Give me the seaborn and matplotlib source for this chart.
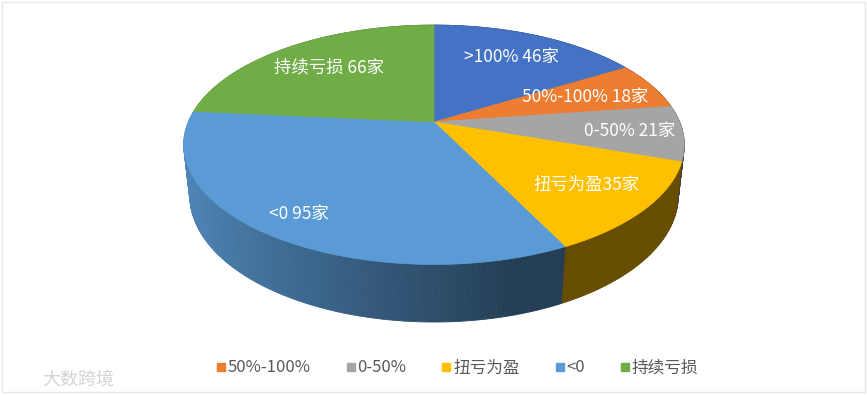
import numpy as np
import matplotlib
matplotlib.use("Agg")
import matplotlib.pyplot as plt
from matplotlib.patches import Polygon, Rectangle
from matplotlib.lines import Line2D
import matplotlib.colors as mcolors
import seaborn as sns

# data
categories = [">100%", "50%-100%", "0-50%", "扭亏为盈", "<0", "持续亏损"]
counts = [46, 18, 21, 35, 95, 66]
slice_labels = [">100% 46家", "50%-100% 18家", "0-50% 21家", "扭亏为盈35家", "<0 95家", "持续亏损 66家"]
legend_items = ["50%-100%", "0-50%", "扭亏为盈", "<0", "持续亏损"]
colors = ["#4472C4", "#ED7D31", "#A5A5A5", "#FFC000", "#5B9BD5", "#70AD47"]
label_r = [0.72, 0.68, 0.79, 0.75, 0.84, 0.7]

sns.set_theme(style="white")
plt.rcParams['font.family'] = ['Noto Sans CJK SC', 'DejaVu Sans']
palette = dict(zip(categories, sns.color_palette(colors)))

W, H = 867, 395
fig = plt.figure(figsize=(W / 100, H / 100), dpi=100)
ax = fig.add_axes([0, 0, 1, 1])
ax.set_xlim(0, W)
ax.set_ylim(H, 0)
ax.axis("off")

# perspective camera for the 3d pie
elev = np.radians(28)
s, c = np.sin(elev), np.cos(elev)
dist = 4.64
f = 1140
cx, cy = 434, 122
depth = 0.237


def project(X, Y, Z):
    yp = Y * c - Z * s
    zp = Y * s + Z * c
    w = dist - zp
    return cx + f * X / w, cy - f * yp / w, zp


def circ(phi, r=1.0, Y=0.0):
    # phi clockwise from 12 o'clock (back of the pie)
    return project(r * np.sin(phi), Y, -r * np.cos(phi))


total = sum(counts)
bounds = np.concatenate([[0], np.cumsum(counts)]) / total * 2 * np.pi

# sides: small quads, drawn back to front
quads = []
for i, cat in enumerate(categories):
    base = np.array(mcolors.to_rgb(palette[cat]))
    n = max(int(np.degrees(bounds[i + 1] - bounds[i])), 2)
    ph = np.linspace(bounds[i], bounds[i + 1], n + 1)
    for a0, a1 in zip(ph[:-1], ph[1:]):
        x0, y0, _ = circ(a0)
        x1, y1, _ = circ(a1)
        x2, y2, _ = circ(a1, Y=-depth)
        x3, y3, _ = circ(a0, Y=-depth)
        am = (a0 + a1) / 2
        _, _, zm = circ(am)
        shade = np.clip(0.5 - 0.38 * np.sin(am), 0.4, 0.88)
        quads.append((zm, [(x0, y0), (x1, y1), (x2, y2), (x3, y3)], base * shade))

for zm, pts, col in sorted(quads, key=lambda q: q[0]):
    ax.add_patch(Polygon(pts, closed=True, facecolor=col, edgecolor=col, linewidth=0.6))

# top face
for i, cat in enumerate(categories):
    ph = np.linspace(bounds[i], bounds[i + 1], 200)
    xs, ys, _ = circ(ph)
    pts = [(cx, cy)] + list(zip(xs, ys))
    col = palette[cat]
    ax.add_patch(Polygon(pts, closed=True, facecolor=col, edgecolor=col, linewidth=0.5))

# data labels
for i, lab in enumerate(slice_labels):
    am = (bounds[i] + bounds[i + 1]) / 2
    lx, ly, _ = circ(am, r=label_r[i])
    ax.text(lx, ly, lab, color="white", fontsize=12.5, ha="center", va="center")

# legend
handles = [Line2D([0], [0], marker="s", linestyle="none", markersize=6,
                  markerfacecolor=palette[k], markeredgecolor=palette[k]) for k in legend_items]
fig.legend(handles, legend_items, loc="center", bbox_to_anchor=(457 / W, 1 - 368 / H), ncol=5,
           frameon=False, fontsize=12, handlelength=0.6, handletextpad=0.1, columnspacing=2.1,
           labelcolor="#595959")

# watermark and frame
ax.text(78, 380, "大数跨境", color="#d4d4d4", fontsize=13, ha="center", va="center")
ax.add_patch(Rectangle((2, 2), W - 4, H - 5, fill=False, edgecolor="#e8e8e8", linewidth=1))

fig.savefig("out.png", dpi=100)
